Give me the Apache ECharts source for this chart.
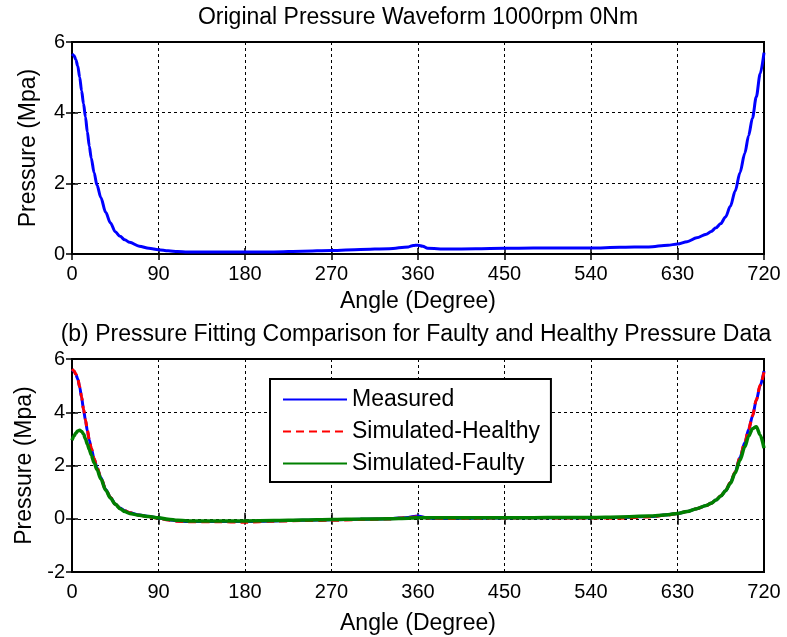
<!DOCTYPE html>
<html>
<head>
<meta charset="utf-8">
<script src="https://cdn.jsdelivr.net/npm/echarts@6/dist/echarts.min.js"></script>
<style>
  html, body { margin: 0; padding: 0; background: #fff; }
  #chart { width: 787px; height: 637px; }
</style>
</head>
<body>
<div id="chart"></div>
<script>
// crank angle (degree), shared by all curves
const angles = [0, 2, 4, 6, 8, 10, 12, 14, 16, 18, 20, 23, 26, 30, 35, 40, 45, 50, 55, 60,
  70, 80, 90, 100, 110, 120, 150, 180, 210, 240, 270, 300, 330, 350, 355, 360, 365, 370,
  390, 420, 450, 480, 510, 540, 570, 600, 620, 630, 640, 650, 660, 665, 670, 675, 680,
  685, 690, 695, 700, 704, 708, 712, 716, 720]

// (a) original pressure waveform
const original = [5.66, 5.62, 5.5, 5.32, 5.0, 4.62, 4.25, 3.88, 3.45, 3.05, 2.72, 2.3, 1.95, 1.6,
  1.18, 0.88, 0.63, 0.5, 0.4, 0.33, 0.22, 0.16, 0.12, 0.09, 0.07, 0.06, 0.06, 0.06, 0.06,
  0.08, 0.1, 0.13, 0.15, 0.2, 0.24, 0.25, 0.22, 0.16, 0.14, 0.15, 0.16, 0.17, 0.17, 0.17,
  0.19, 0.2, 0.25, 0.28, 0.35, 0.46, 0.56, 0.64, 0.74, 0.86, 1.05, 1.35, 1.78, 2.3, 2.85,
  3.35, 3.85, 4.45, 5.1, 5.7]

// (b) fitting comparison
const measured = [5.6, 5.55, 5.42, 5.25, 4.95, 4.55, 4.1, 3.7, 3.3, 2.95, 2.65, 2.25, 1.92, 1.55,
  1.1, 0.8, 0.55, 0.4, 0.3, 0.23, 0.14, 0.08, 0.03, -0.04, -0.08, -0.1, -0.1, -0.1, -0.08,
  -0.06, -0.04, -0.02, 0.0, 0.05, 0.08, 0.1, 0.07, 0.02, 0.01, 0.02, 0.03, 0.04, 0.04, 0.04,
  0.05, 0.08, 0.15, 0.2, 0.27, 0.38, 0.5, 0.58, 0.7, 0.85, 1.05, 1.35, 1.75, 2.3, 2.85,
  3.35, 3.85, 4.45, 5.0, 5.55]
const healthy = [5.62, 5.56, 5.44, 5.26, 4.96, 4.57, 4.12, 3.72, 3.32, 2.96, 2.66, 2.26, 1.93, 1.55,
  1.1, 0.8, 0.55, 0.4, 0.3, 0.23, 0.13, 0.07, 0.02, -0.05, -0.09, -0.11, -0.11, -0.13, -0.09,
  -0.07, -0.06, -0.03, -0.01, 0.04, 0.06, 0.08, 0.06, 0.02, 0.01, 0.02, 0.03, 0.04, 0.03, 0.03,
  0.02, 0.07, 0.14, 0.2, 0.27, 0.38, 0.5, 0.58, 0.71, 0.86, 1.06, 1.36, 1.76, 2.3, 2.86,
  3.36, 3.86, 4.46, 5.02, 5.5]
const faulty = [2.95, 3.1, 3.22, 3.3, 3.32, 3.28, 3.18, 3.0, 2.8, 2.6, 2.4, 2.1, 1.85, 1.5,
  1.08, 0.78, 0.55, 0.38, 0.27, 0.2, 0.13, 0.08, 0.04, -0.02, -0.06, -0.08, -0.08, -0.08, -0.07,
  -0.05, -0.03, -0.01, 0.0, 0.02, 0.03, 0.04, 0.04, 0.04, 0.04, 0.04, 0.04, 0.04, 0.05, 0.05,
  0.07, 0.1, 0.15, 0.2, 0.27, 0.38, 0.5, 0.58, 0.7, 0.85, 1.05, 1.33, 1.72, 2.2, 2.7,
  3.1, 3.38, 3.46, 3.15, 2.65]

const FONT = "'Liberation Sans', Arial, sans-serif"
const pairs = (vals) => angles.map((a, i) => [a, vals[i]])

const chart = echarts.init(document.getElementById('chart'))

const grids = [
  { left: 72, top: 42, width: 692, height: 212 },
  { left: 72, top: 359, width: 692, height: 213 },
]

const tick = { inside: true, length: 6, lineStyle: { color: '#000', width: 1.5 } }
const grid = { show: true, lineStyle: { color: '#000', width: 1, type: [3, 3] } }

const xMain = (gridIndex, nameGap) => ({
  type: 'value', gridIndex, min: 0, max: 720, interval: 90,
  name: 'Angle (Degree)', nameLocation: 'middle', nameGap,
  nameTextStyle: { color: '#000', fontSize: 23, fontFamily: FONT },
  axisLine: { show: false },
  axisTick: tick,
  axisLabel: { color: '#000', fontSize: 20, fontFamily: FONT, margin: 10 },
  splitLine: grid,
})
const xMirror = (gridIndex) => ({
  type: 'value', gridIndex, min: 0, max: 720, interval: 90, position: 'top',
  axisLine: { show: false }, axisTick: tick,
  axisLabel: { show: false }, splitLine: { show: false },
})
const yMain = (gridIndex, min) => ({
  type: 'value', gridIndex, min, max: 6, interval: 2,
  name: 'Pressure (Mpa)', nameLocation: 'middle', nameGap: 32,
  nameTextStyle: { color: '#000', fontSize: 23, fontFamily: FONT },
  axisLine: { show: false },
  axisTick: tick,
  axisLabel: { color: '#000', fontSize: 20, fontFamily: FONT, margin: 7 },
  splitLine: grid,
})
const yMirror = (gridIndex, min) => ({
  type: 'value', gridIndex, min, max: 6, interval: 2, position: 'right',
  axisLine: { show: false }, axisTick: tick,
  axisLabel: { show: false }, splitLine: { show: false },
})

const lineBase = { type: 'line', symbol: 'none', smooth: 0.3, smoothMonotone: 'x', z: 3 }

chart.setOption({
  animation: false,
  backgroundColor: '#fff',
  graphic: [
    { type: 'text', x: 418, y: 18, style: { text: 'Original Pressure Waveform 1000rpm 0Nm', textAlign: 'center', textVerticalAlign: 'middle', fill: '#000', font: '23px ' + FONT } },
    { type: 'text', x: 416, y: 335, style: { text: '(b) Pressure Fitting Comparison for Faulty and Healthy Pressure Data', textAlign: 'center', textVerticalAlign: 'middle', fill: '#000', font: '23px ' + FONT } },
  ],
  grid: grids.map((g) => ({ ...g, show: true, borderColor: '#000', borderWidth: 2, backgroundColor: '#fff' })),
  xAxis: [xMain(0, 36), xMain(1, 40), xMirror(0), xMirror(1)],
  yAxis: [yMain(0, 0), yMain(1, -2), yMirror(0, 0), yMirror(1, -2)],
  legend: {
    data: ['Measured', 'Simulated-Healthy', 'Simulated-Faulty'],
    orient: 'vertical', left: 270, top: 379,
    backgroundColor: '#fff', borderColor: '#000', borderWidth: 2, borderRadius: 0,
    padding: [9, 11, 7, 12],
    itemWidth: 64, itemHeight: 14, itemGap: 9,
    itemStyle: { opacity: 0 },
    textStyle: { color: '#000', fontSize: 23, fontFamily: FONT },
  },
  series: [
    { ...lineBase, name: 'Original', xAxisIndex: 0, yAxisIndex: 0, data: pairs(original),
      lineStyle: { color: '#0000ff', width: 3 }, itemStyle: { color: '#0000ff' } },
    { ...lineBase, name: 'Measured', xAxisIndex: 1, yAxisIndex: 1, data: pairs(measured),
      lineStyle: { color: '#0000ff', width: 3 }, itemStyle: { color: '#0000ff' } },
    { ...lineBase, name: 'Simulated-Healthy', xAxisIndex: 1, yAxisIndex: 1, data: pairs(healthy),
      lineStyle: { color: '#ff0000', width: 3, type: [8, 5] }, itemStyle: { color: '#ff0000' } },
    { ...lineBase, name: 'Simulated-Faulty', xAxisIndex: 1, yAxisIndex: 1, data: pairs(faulty),
      lineStyle: { color: '#008000', width: 3.5 }, itemStyle: { color: '#008000' } },
  ],
})
</script>
</body>
</html>
